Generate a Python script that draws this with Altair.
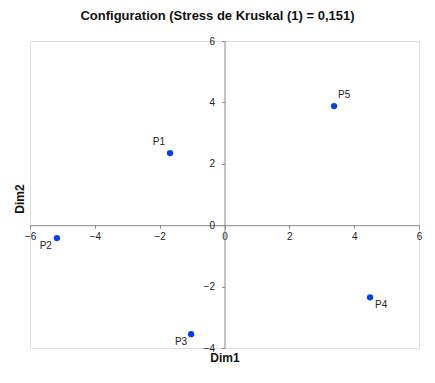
import altair as alt
import pandas as pd

labels = ["P1", "P2", "P3", "P4", "P5"]
dim1 = [-1.68, -5.17, -1.03, 4.49, 3.38]
dim2 = [2.35, -0.42, -3.55, -2.35, 3.88]
x_ticks = [-6, -4, -2, 0, 2, 4, 6]
y_ticks = [-4, -2, 0, 2, 4, 6]

df = pd.DataFrame({"label": labels, "Dim1": dim1, "Dim2": dim2})

W, H = 389, 307
xdom, ydom = [-6, 6], [-4, 6]
# pixel positions of zero lines
x0 = W * (0 - xdom[0]) / (xdom[1] - xdom[0])
y0 = H * (ydom[1] - 0) / (ydom[1] - ydom[0])

font = "Liberation Sans"
gray = "#888888"

xenc = alt.X("Dim1:Q", scale=alt.Scale(domain=xdom, nice=False, zero=False),
             axis=alt.Axis(values=x_ticks, grid=False, orient="bottom", offset=-(H - y0),
                           domainColor=gray, tickColor=gray, tickSize=3, labelPadding=3,
                           labelFont=font, labelFontSize=10, labelColor="#222",
                           title="Dim1", titleFont=font, titleFontSize=12, titleFontWeight="bold",
                           titleY=(H - y0) + 4, titleColor="#111", labelFlush=False))
yenc = alt.Y("Dim2:Q", scale=alt.Scale(domain=ydom, nice=False, zero=False),
             axis=alt.Axis(values=y_ticks, grid=False, orient="left", offset=-x0,
                           domainColor=gray, tickColor=gray, tickSize=3, labelPadding=7,
                           labelFont=font, labelFontSize=10, labelColor="#222",
                           title="Dim2", titleFont=font, titleFontSize=12, titleFontWeight="bold",
                           titleX=-(x0 + 4), titleY=H / 2 + 4, titleColor="#111", labelFlush=False))

base = alt.Chart(df).encode(x=xenc, y=yenc)
pts = base.mark_circle(size=40, color="#0a3ff0", opacity=1)

def lab(name, dx, dy, align):
    return base.transform_filter(alt.datum.label == name).mark_text(
        dx=dx, dy=dy, align=align, font=font, fontSize=10, color="#222"
    ).encode(text="label:N")

chart = alt.layer(
    pts,
    lab("P1", -5, -11, "right"),
    lab("P2", -5, 8, "right"),
    lab("P3", -4, 8, "right"),
    lab("P4", 5, 8, "left"),
    lab("P5", 4, -11, "left"),
).properties(
    width=W, height=H,
    title=alt.TitleParams("Configuration (Stress de Kruskal (1) = 0,151)", font=font,
                          fontSize=13, fontWeight="bold", color="#111", offset=13, dx=-7),
    autosize=alt.AutoSizeParams(type="none"),
    padding={"left": 22, "top": 33, "right": 8, "bottom": 30},
).configure_view(stroke=gray, strokeWidth=1).configure(background="white")

chart.save("out.html", embed_options={"renderer": "svg", "actions": False})
